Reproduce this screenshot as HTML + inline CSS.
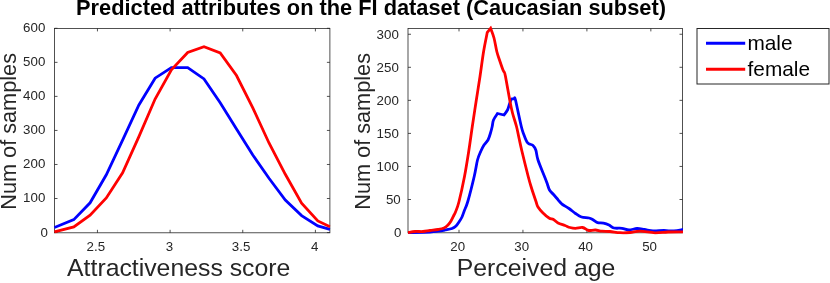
<!DOCTYPE html>
<html><head><meta charset="utf-8"><title>Predicted attributes</title>
<style>
html,body{margin:0;padding:0;background:#fff;}
body{width:830px;height:283px;overflow:hidden;position:relative;font-family:"Liberation Sans",sans-serif;}
svg{position:absolute;left:0;top:0;display:block;}
text{font-family:"Liberation Sans",sans-serif;}
.tk{font-size:13.3px;fill:#262626;}
.xl{font-size:24.8px;fill:#262626;}
.yl{font-size:22.4px;fill:#262626;}
.lg{font-size:20.8px;fill:#000;}
.tt{font-size:21.8px;font-weight:bold;fill:#000;}
</style></head><body>
<svg width="830" height="283" viewBox="0 0 830 283">
<rect x="0" y="0" width="830" height="283" fill="#ffffff"/>
<g opacity="0.999">
<text class="tt" x="371" y="15" text-anchor="middle">Predicted attributes on the FI dataset (Caucasian subset)</text>
<clipPath id="c1"><rect x="54.0" y="25.4" width="276.4" height="209.4"/></clipPath>
<path d="M97.45 232.8v-3M97.45 28.4v3M170.10 232.8v-3M170.10 28.4v3M242.75 232.8v-3M242.75 28.4v3M315.40 232.8v-3M315.40 28.4v3M54.5 232.55h3M329.9 232.55h-3M54.5 198.51h3M329.9 198.51h-3M54.5 164.47h3M329.9 164.47h-3M54.5 130.43h3M329.9 130.43h-3M54.5 96.39h3M329.9 96.39h-3M54.5 62.35h3M329.9 62.35h-3M54.5 28.31h3M329.9 28.31h-3" stroke="#262626" stroke-width="0.8" fill="none"/>
<rect x="54.5" y="28.4" width="275.4" height="204.4" fill="none" stroke="#262626" stroke-width="0.8"/>
<text class="tk" x="95.8" y="251.0" text-anchor="middle">2.5</text>
<text class="tk" x="169.5" y="251.0" text-anchor="middle">3</text>
<text class="tk" x="241.1" y="251.0" text-anchor="middle">3.5</text>
<text class="tk" x="314.8" y="251.0" text-anchor="middle">4</text>
<text class="tk" x="48.0" y="236.5" text-anchor="end">0</text>
<text class="tk" x="45.3" y="202.4" text-anchor="end">100</text>
<text class="tk" x="45.3" y="168.4" text-anchor="end">200</text>
<text class="tk" x="45.3" y="134.3" text-anchor="end">300</text>
<text class="tk" x="45.3" y="100.3" text-anchor="end">400</text>
<text class="tk" x="45.3" y="66.3" text-anchor="end">500</text>
<text class="tk" x="45.3" y="32.2" text-anchor="end">600</text>
<text class="xl" x="178.7" y="276.1" text-anchor="middle">Attractiveness score</text>
<text class="yl" transform="translate(16.0,131.4) rotate(-90) scale(0.969,1)" text-anchor="middle">Num of samples</text>
<g clip-path="url(#c1)" fill="none" stroke-width="2.8" stroke-linejoin="miter">
<polyline points="54.4,227.5 73.8,219.6 90.1,202.8 106.3,174.8 122.6,140.2 138.9,105.0 155.1,78.2 171.4,67.6 187.7,67.6 204.0,78.9 220.2,102.8 236.5,129.0 252.8,155.0 269.0,178.3 285.3,200.1 301.6,215.6 317.8,225.9 330.0,229.3" stroke="#0000ff"/>
<polyline points="54.4,231.9 73.8,226.9 90.1,215.2 106.3,198.0 122.6,172.8 138.9,136.7 155.1,99.0 171.4,69.9 187.7,52.5 204.0,46.7 220.2,53.0 236.5,75.5 252.8,107.8 269.0,143.0 285.3,174.3 301.6,203.1 317.8,220.9 330.0,226.7" stroke="#ff0000"/>
</g>
<clipPath id="c2"><rect x="407.5" y="25.4" width="275.5" height="209.4"/></clipPath>
<path d="M459.00 232.8v-3M459.00 28.4v3M522.95 232.8v-3M522.95 28.4v3M586.90 232.8v-3M586.90 28.4v3M650.85 232.8v-3M650.85 28.4v3M408.0 232.55h3M682.5 232.55h-3M408.0 199.50h3M682.5 199.50h-3M408.0 166.45h3M682.5 166.45h-3M408.0 133.40h3M682.5 133.40h-3M408.0 100.35h3M682.5 100.35h-3M408.0 67.30h3M682.5 67.30h-3M408.0 34.25h3M682.5 34.25h-3" stroke="#262626" stroke-width="0.8" fill="none"/>
<rect x="408.0" y="28.4" width="274.5" height="204.4" fill="none" stroke="#262626" stroke-width="0.8"/>
<text class="tk" x="457.7" y="251.0" text-anchor="middle">20</text>
<text class="tk" x="521.7" y="251.0" text-anchor="middle">30</text>
<text class="tk" x="585.6" y="251.0" text-anchor="middle">40</text>
<text class="tk" x="649.6" y="251.0" text-anchor="middle">50</text>
<text class="tk" x="401.5" y="237.2" text-anchor="end">0</text>
<text class="tk" x="400.7" y="204.1" text-anchor="end">50</text>
<text class="tk" x="398.8" y="171.0" text-anchor="end">100</text>
<text class="tk" x="398.8" y="138.0" text-anchor="end">150</text>
<text class="tk" x="398.8" y="104.9" text-anchor="end">200</text>
<text class="tk" x="398.8" y="71.9" text-anchor="end">250</text>
<text class="tk" x="398.8" y="38.9" text-anchor="end">300</text>
<text class="xl" x="536.0" y="276.1" text-anchor="middle">Perceived age</text>
<text class="yl" transform="translate(369.5,131.4) rotate(-90) scale(0.969,1)" text-anchor="middle">Num of samples</text>
<g clip-path="url(#c2)" fill="none" stroke-width="2.8" stroke-linejoin="miter" stroke-miterlimit="2.2">
<path d="M408.00 232.60C411.67 232.50 425.00 232.23 430.00 232.00C435.00 231.77 435.50 231.53 438.00 231.20C440.50 230.87 442.67 230.45 445.00 230.00C447.33 229.55 450.17 229.17 452.00 228.50C453.83 227.83 454.83 227.08 456.00 226.00C457.17 224.92 458.00 223.50 459.00 222.00C460.00 220.50 461.13 218.83 462.00 217.00C462.87 215.17 463.23 213.58 464.20 211.00C465.17 208.42 466.13 207.25 467.80 201.50C469.47 195.75 472.58 183.42 474.20 176.50C475.82 169.58 476.42 164.17 477.50 160.00C478.58 155.83 479.62 154.00 480.70 151.50C481.78 149.00 482.78 146.92 484.00 145.00C485.22 143.08 486.92 142.00 488.00 140.00C489.08 138.00 489.80 135.25 490.50 133.00C491.20 130.75 491.70 128.67 492.20 126.50C492.70 124.33 492.62 122.17 493.50 120.00C494.38 117.83 496.83 114.58 497.50 113.50C498.58 113.75 502.92 114.75 504.00 115.00C504.58 114.17 506.58 111.83 507.50 110.00C508.42 108.17 508.92 105.67 509.50 104.00C510.08 102.33 510.58 100.87 511.00 100.00C511.42 99.13 511.83 99.00 512.00 98.80C512.42 98.80 514.08 98.80 514.50 98.80C514.67 99.00 514.37 95.38 515.50 100.00C516.63 104.62 519.88 120.67 521.30 126.50C522.72 132.33 523.05 132.42 524.00 135.00C524.95 137.58 526.08 140.50 527.00 142.00C527.92 143.50 528.50 143.42 529.50 144.00C530.50 144.58 531.95 144.50 533.00 145.50C534.05 146.50 534.97 147.58 535.80 150.00C536.63 152.42 536.55 155.58 538.00 160.00C539.45 164.42 543.00 172.67 544.50 176.50C546.00 180.33 546.17 180.75 547.00 183.00C547.83 185.25 548.42 188.08 549.50 190.00C550.58 191.92 552.25 193.08 553.50 194.50C554.75 195.92 556.00 197.33 557.00 198.50C558.00 199.67 558.58 200.50 559.50 201.50C560.42 202.50 560.92 203.33 562.50 204.50C564.08 205.67 566.83 207.00 569.00 208.50C571.17 210.00 573.42 212.08 575.50 213.50C577.58 214.92 579.25 216.25 581.50 217.00C583.75 217.75 587.08 217.53 589.00 218.00C590.92 218.47 591.58 219.03 593.00 219.80C594.42 220.57 595.75 222.03 597.50 222.60C599.25 223.17 601.58 222.80 603.50 223.20C605.42 223.60 607.25 224.20 609.00 225.00C610.75 225.80 611.83 227.45 614.00 228.00C616.17 228.55 619.50 227.97 622.00 228.30C624.50 228.63 626.50 229.97 629.00 230.00C631.50 230.03 634.42 228.58 637.00 228.50C639.58 228.42 641.83 229.08 644.50 229.50C647.17 229.92 649.75 230.83 653.00 231.00C656.25 231.17 660.50 230.50 664.00 230.50C667.50 230.50 670.83 231.17 674.00 231.00C677.17 230.83 681.50 229.75 683.00 229.50" stroke="#0000ff"/>
<path d="M408.00 232.50C409.17 232.33 412.50 231.67 415.00 231.50C417.50 231.33 420.50 231.67 423.00 231.50C425.50 231.33 427.50 230.83 430.00 230.50C432.50 230.17 435.67 229.92 438.00 229.50C440.33 229.08 442.33 228.75 444.00 228.00C445.67 227.25 446.83 226.17 448.00 225.00C449.17 223.83 450.00 222.67 451.00 221.00C452.00 219.33 453.25 216.50 454.00 215.00C454.75 213.50 454.68 214.17 455.50 212.00C456.32 209.83 457.40 207.92 458.90 202.00C460.40 196.08 462.87 184.92 464.50 176.50C466.13 168.08 467.40 159.83 468.70 151.50C470.00 143.17 471.07 134.83 472.30 126.50C473.53 118.17 474.82 109.83 476.10 101.50C477.38 93.17 478.75 84.83 480.00 76.50C481.25 68.17 482.38 58.87 483.60 51.50C484.82 44.13 486.68 35.50 487.30 32.30C487.85 31.63 490.05 28.97 490.60 28.30C491.17 29.92 492.97 34.13 494.00 38.00C495.03 41.87 495.88 47.83 496.80 51.50C497.72 55.17 498.47 56.92 499.50 60.00C500.53 63.08 502.17 67.92 503.00 70.00C503.83 72.08 504.25 72.08 504.50 72.50C504.67 73.17 504.58 71.67 505.50 76.50C506.42 81.33 508.83 95.42 510.00 101.50C511.17 107.58 511.42 108.83 512.50 113.00C513.58 117.17 515.42 122.33 516.50 126.50C517.58 130.67 518.08 133.83 519.00 138.00C519.92 142.17 520.47 145.08 522.00 151.50C523.53 157.92 526.62 170.42 528.20 176.50C529.78 182.58 530.20 183.83 531.50 188.00C532.80 192.17 534.92 198.33 536.00 201.50C537.08 204.67 536.83 205.08 538.00 207.00C539.17 208.92 541.17 211.17 543.00 213.00C544.83 214.83 547.25 216.92 549.00 218.00C550.75 219.08 552.00 218.67 553.50 219.50C555.00 220.33 556.08 222.00 558.00 223.00C559.92 224.00 563.00 224.75 565.00 225.50C567.00 226.25 568.25 227.03 570.00 227.50C571.75 227.97 573.42 228.30 575.50 228.30C577.58 228.30 580.50 227.22 582.50 227.50C584.50 227.78 586.25 229.50 587.50 230.00C588.75 230.50 588.67 230.50 590.00 230.50C591.33 230.50 593.50 229.88 595.50 230.00C597.50 230.12 599.58 230.95 602.00 231.20C604.42 231.45 607.00 231.25 610.00 231.50C613.00 231.75 616.67 232.53 620.00 232.70C623.33 232.87 626.67 232.75 630.00 232.50C633.33 232.25 635.83 231.15 640.00 231.20C644.17 231.25 650.33 232.67 655.00 232.80C659.67 232.93 663.33 232.17 668.00 232.00C672.67 231.83 680.50 231.83 683.00 231.80" stroke="#ff0000"/>
</g>
<rect x="697" y="28.5" width="132" height="55.5" fill="none" stroke="#262626" stroke-width="1"/>
<path d="M706 43.3H745.2" stroke="#0000ff" stroke-width="3" fill="none"/>
<path d="M706 69.3H745.2" stroke="#ff0000" stroke-width="3" fill="none"/>
<text class="lg" x="747.4" y="49.8">male</text>
<text class="lg" x="747.6" y="76.1">female</text>
</g>
</svg></body></html>
